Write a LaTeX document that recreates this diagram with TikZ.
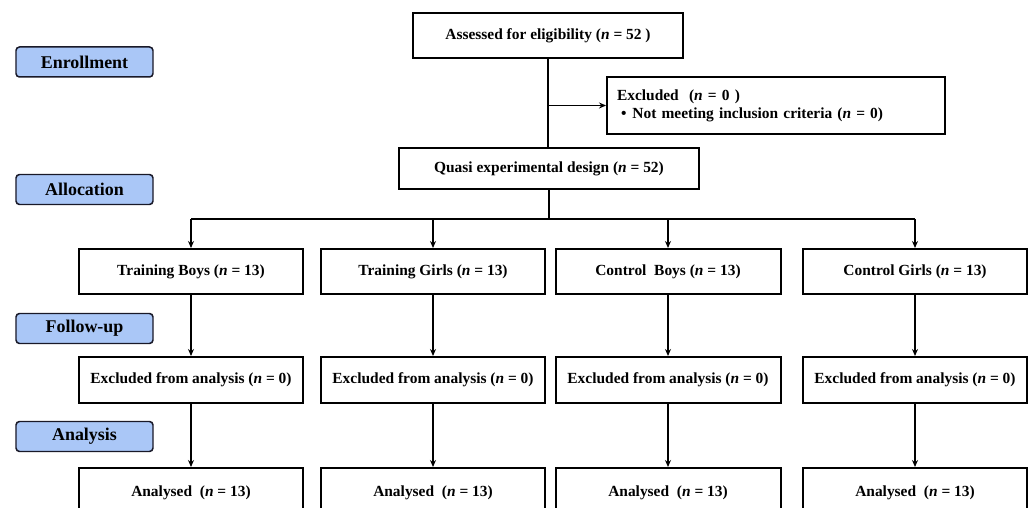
\documentclass[tikz,border=0pt]{standalone}
\usepackage{fontspec}
\setmainfont{Liberation Serif}
\usetikzlibrary{arrows.meta,positioning}
\definecolor{stageblue}{RGB}{170,199,247}
\definecolor{stageline}{RGB}{25,25,40}
\newcommand{\nn}{\textit{n}}
\tikzset{
	box/.style={draw, line width=2pt, fill=white, inner sep=0pt, align=center,
		font=\bfseries\fontsize{15.5}{18}\selectfont},
	stage/.style={draw=stageline, line width=1.5pt, rounded corners=3.5pt, fill=stageblue,
		minimum width=137bp, minimum height=30bp, inner sep=0pt,
		font=\bfseries\fontsize{18}{20}\selectfont},
	link/.style={line width=2pt, -{Stealth[length=7pt,width=6pt]}},
	plain/.style={line width=2pt}
}
\begin{document}
\begin{tikzpicture}[x=1bp,y=-1bp,line join=miter]
	\useasboundingbox (0,0) rectangle (1030,508);
	\clip (0,0) rectangle (1030,508);
	% stages
	\node[stage] (enrol) at (84.5,62) {Enrollment};
	\node[stage] (alloc) at (84.5,189.5) {Allocation};
	\node[stage] (follow) at (84.5,328.5) {Follow-up};
	\node[stage] (analy) at (84.5,436.5) {Analysis};
	% top part
	\node[box, minimum width=270bp, minimum height=45bp] (elig) at (548,35.5) {Assessed for eligibility (\nn{} = 52 )};
	\node[box, minimum width=338bp, minimum height=57bp, align=left, text width=318bp] (excl) at (776,105.5)
		{Excluded\ \ (\nn{} = 0 )\\[0pt]\hspace*{4bp}\textbullet\hspace{6bp}Not meeting inclusion criteria (\nn{} = 0)};
	\node[box, minimum width=300bp, minimum height=41bp] (quasi) at (549,168.5) {Quasi experimental design (\nn{} = 52)};
	% groups
	\node[box, minimum width=224bp, minimum height=45bp] (tb) at (191,271.5) {Training Boys (\nn{} = 13)};
	\node[box, minimum width=224bp, minimum height=45bp] (tg) at (433,271.5) {Training Girls (\nn{} = 13)};
	\node[box, minimum width=225bp, minimum height=45bp] (cb) at (668,271.5) {Control\ \ Boys (\nn{} = 13)};
	\node[box, minimum width=224bp, minimum height=45bp] (cg) at (915,271.5) {Control Girls (\nn{} = 13)};
	% follow-up
	\node[box, minimum width=224bp, minimum height=46bp] (tbx) at (191,380) {Excluded from analysis (\nn{} = 0)};
	\node[box, minimum width=224bp, minimum height=46bp] (tgx) at (433,380) {Excluded from analysis (\nn{} = 0)};
	\node[box, minimum width=225bp, minimum height=46bp] (cbx) at (668,380) {Excluded from analysis (\nn{} = 0)};
	\node[box, minimum width=224bp, minimum height=46bp] (cgx) at (915,380) {Excluded from analysis (\nn{} = 0)};
	% analysis
	\node[box, minimum width=224bp, minimum height=50bp] (tba) at (191,493) {Analysed\ \ (\nn{} = 13)};
	\node[box, minimum width=224bp, minimum height=50bp] (tga) at (433,493) {Analysed\ \ (\nn{} = 13)};
	\node[box, minimum width=225bp, minimum height=50bp] (cba) at (668,493) {Analysed\ \ (\nn{} = 13)};
	\node[box, minimum width=224bp, minimum height=50bp] (cga) at (915,493) {Analysed\ \ (\nn{} = 13)};
	% connectors
	\draw[plain] (elig.south) -- (elig.south |- quasi.north);
	\coordinate (split) at (elig.south |- excl.west);
	\draw[link] (split) -- (excl.west);
	\coordinate (bar) at ([yshift=-29bp]quasi.south);
	\draw[plain] (quasi.south) -- (bar);
	\draw[plain] (tb.north |- bar) -- (cg.north |- bar);
	\foreach \g in {tb,tg,cb,cg}{
		\draw[link] (\g.north |- bar) -- (\g.north);
		\draw[link] (\g.south) -- (\g x.north);
		\draw[link] (\g x.south) -- (\g a.north);
	}
\end{tikzpicture}
\end{document}
